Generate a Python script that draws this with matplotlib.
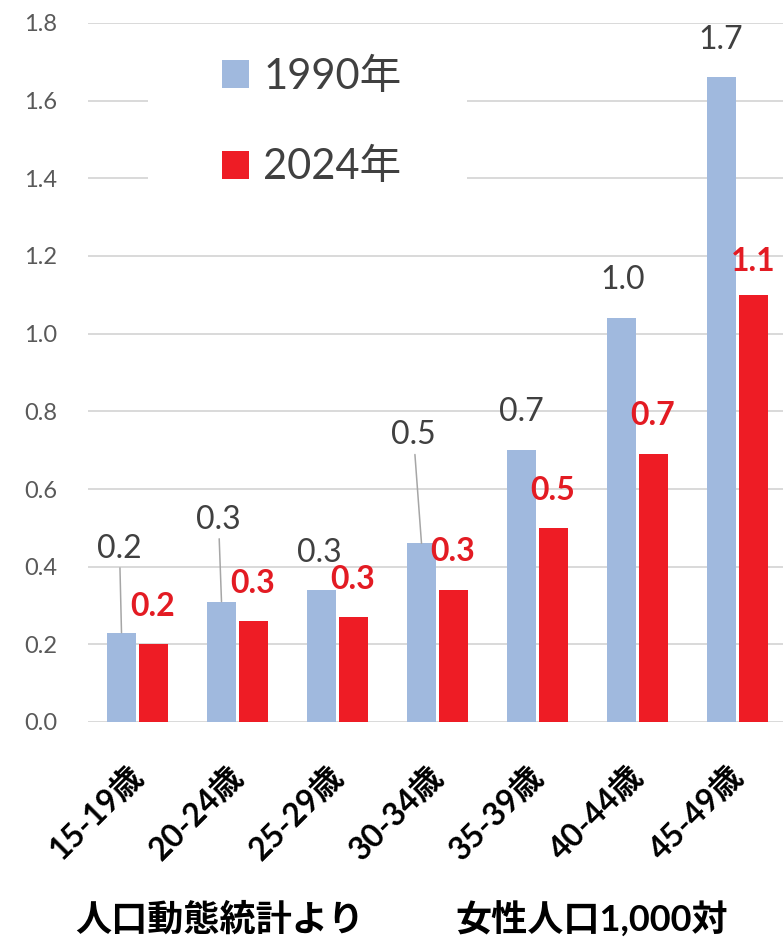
import numpy as np
import matplotlib
matplotlib.use("Agg")
import matplotlib.pyplot as plt
from matplotlib.patches import Patch, Rectangle

plt.rcParams['font.family'] = ['Lato', 'Noto Sans CJK JP', 'DejaVu Sans']

# 年齢階級
grupos = ['15-19歳', '20-24歳', '25-29歳', '30-34歳', '35-39歳', '40-44歳', '45-49歳']
# 女性人口1,000対
valores_1990 = [0.23, 0.31, 0.34, 0.46, 0.70, 1.04, 1.66]
valores_2024 = [0.20, 0.26, 0.27, 0.34, 0.50, 0.69, 1.10]
series = ['1990年', '2024年']
ticks_y = [0.0, 0.2, 0.4, 0.6, 0.8, 1.0, 1.2, 1.4, 1.6, 1.8]

azul = '#A0B9DE'
rojo = '#EE1C25'
gris_texto = '#404040'

# desplazamiento de cada etiqueta respecto a la punta de su barra (pixeles)
offsets_1990 = [(-2, 84), (-3, 82), (-2, 37), (-8, 108), (0, 38), (1, 38), (-1, 37)]
offsets_2024 = [(0, 38), (0, 38), (0, 38), (0, 38), (0, 37), (0, 39), (0, 33)]
con_linea = [True, True, False, True, False, False, False]

fig = plt.figure(figsize=(7.83, 9.43), dpi=100)
ax = fig.add_axes([88/783, 221/943, 700/783, 699/943])

x = np.arange(len(grupos))
ancho = 0.29
barras_a = ax.bar(x - 0.165, valores_1990, ancho, color=azul, zorder=2)
barras_b = ax.bar(x + 0.15, valores_2024, ancho, color=rojo, zorder=2)

ax.set_xlim(-0.5, len(grupos) - 0.5)
ax.set_ylim(0, 1.8)
ax.set_yticks(ticks_y)
ax.set_yticklabels([f'{t:.1f}' for t in ticks_y])
ax.set_xticks(x)
ax.set_xticklabels(grupos, rotation=45, ha='right', va='center',
                   rotation_mode='anchor', fontsize=23, fontweight='bold', color='black')
ax.tick_params(axis='x', length=0, pad=35)
ax.tick_params(axis='y', length=0, pad=22, labelsize=17, labelcolor='#595959')
for s in ax.spines.values():
    s.set_visible(False)
ax.set_axisbelow(True)
ax.grid(axis='y', color='#D9D9D9', lw=1.4, zorder=0)

# etiquetas de valor
for i, b in enumerate(barras_a):
    cx = b.get_x() + b.get_width() / 2
    dx, dy = offsets_1990[i]
    flecha = dict(arrowstyle='-', color='#A6A6A6', lw=1.1, shrinkA=1, shrinkB=0) if con_linea[i] else None
    ax.annotate(f'{valores_1990[i]:.1f}', xy=(cx, valores_1990[i]), xytext=(dx, dy),
                textcoords='offset pixels', ha='center', va='center',
                fontsize=23, color=gris_texto, arrowprops=flecha, zorder=3)
for i, b in enumerate(barras_b):
    cx = b.get_x() + b.get_width() / 2
    dx, dy = offsets_2024[i]
    ax.annotate(f'{valores_2024[i]:.1f}', xy=(cx, valores_2024[i]), xytext=(dx, dy),
                textcoords='offset pixels', ha='center', va='center',
                fontsize=23, fontweight='bold', color='#E31B23', zorder=3)

# leyenda sobre fondo blanco
ax.add_patch(Rectangle((0.0857, 0.725), 0.456, 0.258, transform=ax.transAxes,
                       facecolor='white', edgecolor='none', zorder=1))
manejadores = [Patch(facecolor=azul), Patch(facecolor=rojo)]
ley = ax.legend(manejadores, series, loc='center left', bbox_to_anchor=(0.1614, 0.8584),
                frameon=False, fontsize=30, borderpad=0, handlelength=0.65,
                handleheight=0.65, handletextpad=0.34, labelspacing=1.26)
for t in ley.get_texts():
    t.set_color(gris_texto)

fig.text(75/783, 23/943, '人口動態統計より', fontsize=26, fontweight='bold', va='center')
fig.text(455/783, 23/943, '女性人口1,000対', fontsize=26, fontweight='bold', va='center')

fig.savefig('out.png', dpi=100)
